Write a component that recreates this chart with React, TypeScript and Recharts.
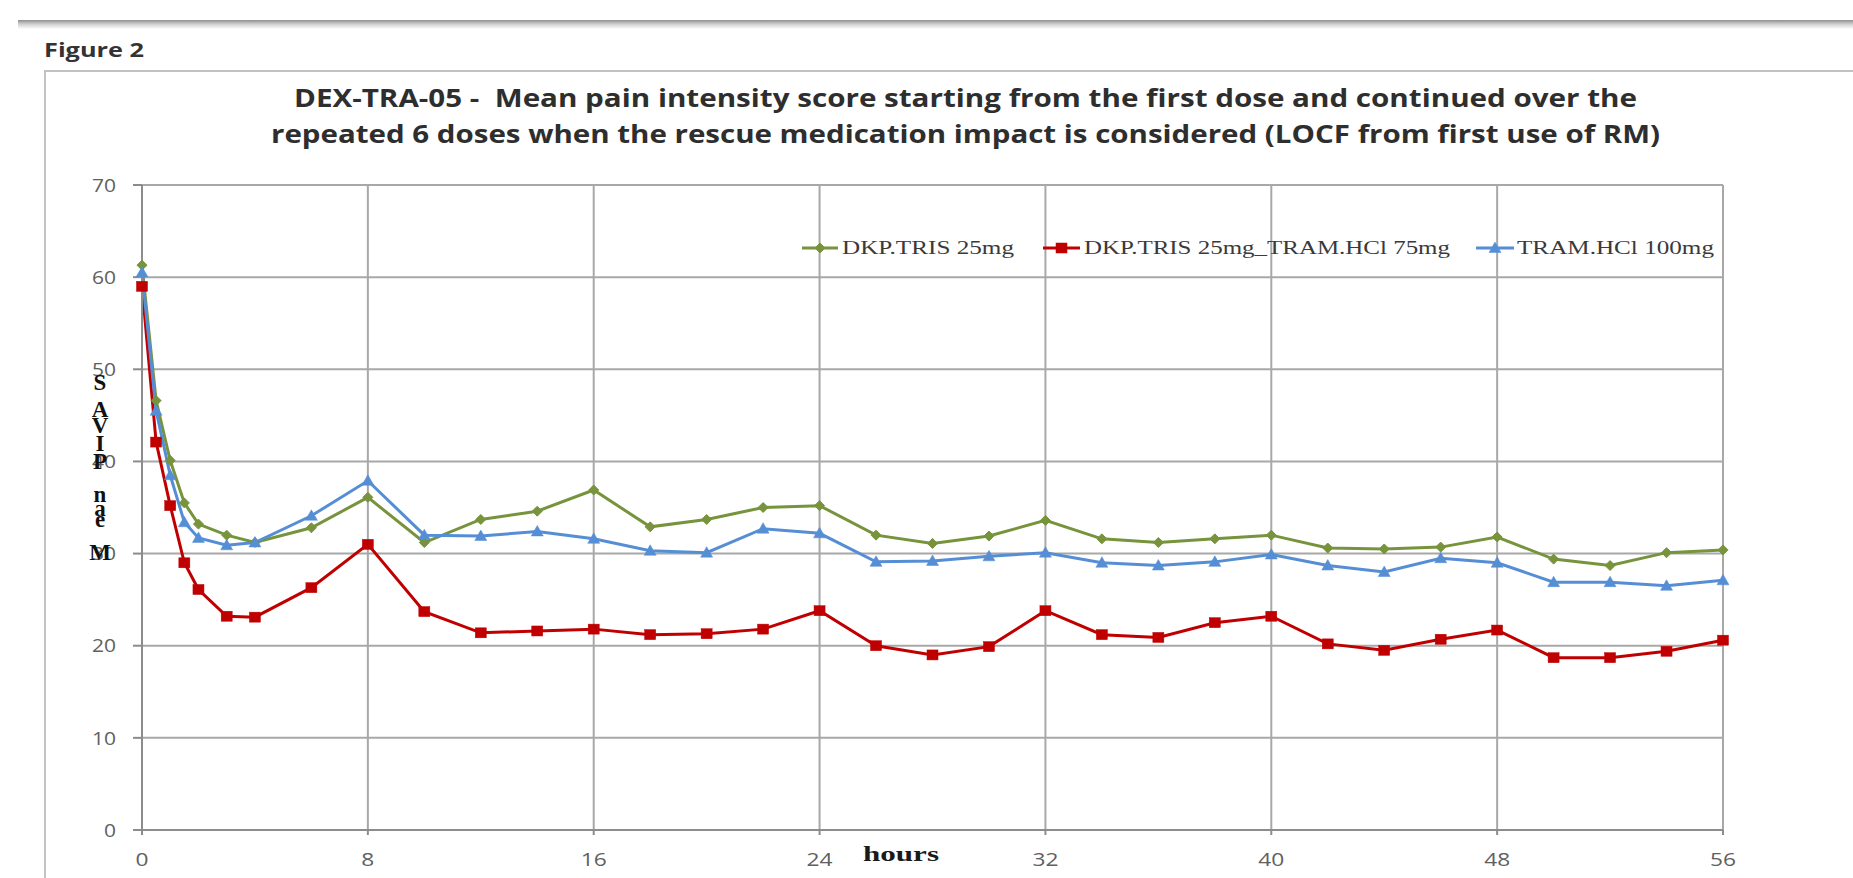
import React from 'react';
import { LineChart, Line, XAxis, YAxis, CartesianGrid, Legend } from 'recharts';

const hours = [0, 0.5, 1, 1.5, 2, 3, 4, 6, 8, 10, 12, 14, 16, 18, 20, 22, 24, 26, 28, 30, 32, 34, 36, 38, 40, 42, 44, 46, 48, 50, 52, 54, 56];
const dkpTris25 = [61.3, 46.6, 40.1, 35.5, 33.2, 32.0, 31.2, 32.8, 36.1, 31.2, 33.7, 34.6, 36.9, 32.9, 33.7, 35.0, 35.2, 32.0, 31.1, 31.9, 33.6, 31.6, 31.2, 31.6, 32.0, 30.6, 30.5, 30.7, 31.8, 29.4, 28.7, 30.1, 30.4];
const dkpTris25Tram75 = [59.0, 42.1, 35.2, 29.0, 26.1, 23.2, 23.1, 26.3, 31.0, 23.7, 21.4, 21.6, 21.8, 21.2, 21.3, 21.8, 23.8, 20.0, 19.0, 19.9, 23.8, 21.2, 20.9, 22.5, 23.2, 20.2, 19.5, 20.7, 21.7, 18.7, 18.7, 19.4, 20.6];
const tram100 = [60.5, 45.5, 38.5, 33.4, 31.7, 30.9, 31.2, 34.1, 37.9, 32.0, 31.9, 32.4, 31.6, 30.3, 30.1, 32.7, 32.2, 29.1, 29.2, 29.7, 30.1, 29.0, 28.7, 29.1, 29.9, 28.7, 28.0, 29.5, 29.0, 26.9, 26.9, 26.5, 27.1];

const seriesNames = ['DKP.TRIS 25mg', 'DKP.TRIS 25mg_TRAM.HCl 75mg', 'TRAM.HCl 100mg'];
const seriesColors = ['#77933C', '#C00000', '#558ED5'];
const xTicks = [0, 8, 16, 24, 32, 40, 48, 56];
const yTicks = [0, 10, 20, 30, 40, 50, 60, 70];
const titleLines = [
  'DEX-TRA-05 -  Mean pain intensity score starting from the first dose and continued over the',
  'repeated 6 doses when the rescue medication impact is considered (LOCF from first use of RM)',
];
const figureLabel = 'Figure 2';
const xAxisTitle = 'hours';
const yAxisTitleChars = ['S', 'A', 'V', 'I', 'P', 'n', 'a', 'e', 'M'];

const data = hours.map((h, i) => ({
  hour: h,
  g: dkpTris25[i],
  r: dkpTris25Tram75[i],
  b: tram100[i],
}));

const Diamond = ({ cx, cy, color, k }: any) => (
  <polygon key={k} points={`${cx},${cy - 5} ${cx + 5},${cy} ${cx},${cy + 5} ${cx - 5},${cy}`} fill={color} stroke={color} strokeWidth={1} />
);
const Square = ({ cx, cy, color, k }: any) => (
  <rect key={k} x={cx - 5.5} y={cy - 5} width={11} height={10} fill={color} stroke={color} strokeWidth={0.5} />
);
const Triangle = ({ cx, cy, color, k }: any) => (
  <polygon key={k} points={`${cx},${cy - 6} ${cx + 6},${cy + 4.5} ${cx - 6},${cy + 4.5}`} fill={color} stroke={color} strokeWidth={0.5} />
);

const markerFor = (i: number, cx: number, cy: number, k: string) => {
  if (i === 0) return <Diamond cx={cx} cy={cy} color={seriesColors[0]} k={k} />;
  if (i === 1) return <Square cx={cx} cy={cy} color={seriesColors[1]} k={k} />;
  return <Triangle cx={cx} cy={cy} color={seriesColors[2]} k={k} />;
};

const YTick = (props: any) => {
  const { x, y, payload } = props;
  const s = String(payload.value);
  return (
    <text x={x} y={y} dy="0.35em" textAnchor="end" fontSize={19} fill="#606060" fontFamily="Open Sans" textLength={12 * s.length} lengthAdjust="spacingAndGlyphs">
      {s}
    </text>
  );
};

const XTick = (props: any) => {
  const { x, y, payload } = props;
  const s = String(payload.value);
  return (
    <text x={x} y={y} dy="0.35em" textAnchor="middle" fontSize={19} fill="#606060" fontFamily="Open Sans" textLength={13 * s.length} lengthAdjust="spacingAndGlyphs">
      {s}
    </text>
  );
};

const legendLayout = [
  { lineX1: 12, lineX2: 48, textX: 52, textLen: 172 },
  { lineX1: 253, lineX2: 290, textX: 294, textLen: 366 },
  { lineX1: 686, lineX2: 724, textX: 727, textLen: 197 },
];

const renderLegend = () => (
  <svg width={940} height={34} style={{ display: 'block' }}>
    {seriesNames.map((name, i) => {
      const L = legendLayout[i];
      const mid = (L.lineX1 + L.lineX2) / 2;
      return (
        <g key={name}>
          <line x1={L.lineX1} y1={16} x2={L.lineX2} y2={16} stroke={seriesColors[i]} strokeWidth={3} />
          {markerFor(i, mid, 16, `lg${i}`)}
          <text x={L.textX} y={22} fontSize={19} fontFamily="Liberation Serif" fill="#3a3a3a" textLength={L.textLen} lengthAdjust="spacingAndGlyphs">
            {name}
          </text>
        </g>
      );
    })}
  </svg>
);

const keys = ['g', 'r', 'b'];

export default function App() {
  return (
    <div style={{ position: 'absolute', left: 0, top: 0, width: 1853, height: 878, overflow: 'hidden', background: '#ffffff' }}>
      <div style={{ position: 'absolute', left: 18, top: 20, width: 1853, height: 9, background: 'linear-gradient(#8f8f8f, #cfcfcf 45%, #ffffff)' }} />
      <div style={{ position: 'absolute', left: 44, top: 70, width: 1853, height: 900, border: '2px solid #c2c2c2', boxSizing: 'border-box' }} />
      <div style={{ position: 'absolute', left: 0, top: 0 }}>
        <LineChart width={1853} height={878} data={data} margin={{ top: 185, right: 130, bottom: 18, left: 0 }}>
          <CartesianGrid stroke="#a8a8a8" strokeWidth={2} />
          <XAxis
            dataKey="hour"
            type="number"
            domain={[0, 56]}
            ticks={xTicks}
            interval={0}
            height={30}
            tickSize={5}
            tickMargin={24}
            tick={<XTick />}
            axisLine={{ stroke: '#8c8c8c', strokeWidth: 2 }}
            tickLine={{ stroke: '#8c8c8c', strokeWidth: 2 }}
          />
          <YAxis
            type="number"
            domain={[0, 70]}
            ticks={yTicks}
            interval={0}
            width={142}
            tickSize={9}
            tickMargin={17}
            tick={<YTick />}
            axisLine={{ stroke: '#8c8c8c', strokeWidth: 2 }}
            tickLine={{ stroke: '#8c8c8c', strokeWidth: 2 }}
          />
          <Legend
            layout="horizontal"
            verticalAlign="middle"
            align="center"
            content={renderLegend}
            wrapperStyle={{ position: 'absolute', left: 790, top: 232, width: 940, height: 34 }}
          />
          {keys.map((k, i) => (
            <Line
              key={k}
              type="linear"
              dataKey={k}
              name={seriesNames[i]}
              stroke={seriesColors[i]}
              strokeWidth={3}
              isAnimationActive={false}
              dot={(p: any) => markerFor(i, p.cx, p.cy, `${k}-${p.index}`)}
              activeDot={false}
            />
          ))}
        </LineChart>
      </div>
      <svg width={1853} height={878} style={{ position: 'absolute', left: 0, top: 0, pointerEvents: 'none' }}>
        <text x={44} y={57} fontSize={19} fontWeight="bold" fontFamily="Open Sans" fill="#333333" textLength={100} lengthAdjust="spacingAndGlyphs">
          {figureLabel}
        </text>
        <text x={294} y={107} fontSize={25} fontWeight="bold" fontFamily="Open Sans" fill="#2e2e2e" textLength={1343} lengthAdjust="spacingAndGlyphs" style={{ whiteSpace: 'pre' }}>
          {titleLines[0]}
        </text>
        <text x={271} y={143} fontSize={25} fontWeight="bold" fontFamily="Open Sans" fill="#2e2e2e" textLength={1389} lengthAdjust="spacingAndGlyphs" style={{ whiteSpace: 'pre' }}>
          {titleLines[1]}
        </text>
        <text x={863} y={861} fontSize={22} fontWeight="bold" fontFamily="Liberation Serif" fill="#1a1a1a" textLength={76} lengthAdjust="spacingAndGlyphs">
          {xAxisTitle}
        </text>
        {yAxisTitleChars.map((c, i) => {
          const ys = [382, 409, 425, 443, 461, 494, 508, 519, 552];
          return (
            <text key={i} x={100} y={ys[i]} dy="0.35em" textAnchor="middle" fontSize={23} fontWeight="bold" fontFamily="Liberation Serif" fill="#111111">
              {c}
            </text>
          );
        })}
      </svg>
    </div>
  );
}
